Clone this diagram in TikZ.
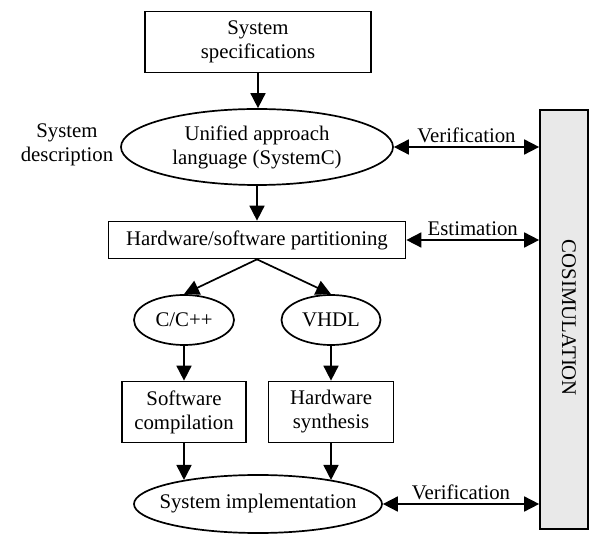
\documentclass[tikz,border=0pt]{standalone}
\usepackage{fontspec}
\setmainfont{Liberation Serif}
\usetikzlibrary{shapes.geometric,arrows.meta}

\begin{document}
\begin{tikzpicture}[x=1pt, y=-1pt, line width=1.7pt, >={Triangle[length=15pt,width=15pt]},
  every node/.style={font=\fontsize{20.8}{24}\selectfont, align=center},
  box/.style={rectangle, draw, inner sep=2pt},
  oval/.style={ellipse, draw, inner sep=0pt}]
\useasboundingbox (0,0) rectangle (589,534);

% specification and description
\node[box, minimum width=226pt, minimum height=61pt] (spec) at (258,42) {System\\specifications};
\node[oval, minimum width=272pt, minimum height=76pt] (ual) at (257,147) {Unified approach\\language (SystemC)};
\node (desc) at (67,145) {System\\description};
\draw[->] (spec.south) -- (spec.south |- ual.north);

% partitioning
\node[box, minimum width=297pt, minimum height=37pt] (hsp) at (257,240) {Hardware/software partitioning};
\draw[->] (ual.south) -- (ual.south |- hsp.north);

% software side
\node[oval, minimum width=100pt, minimum height=50pt] (cc) at (184,320) {C/C++};
\node[box, minimum width=124pt, minimum height=61pt] (swc) at (184,412) {Software\\compilation};
\draw[->] (hsp.south) -- (cc.north);
\draw[->] (cc.south) -- (cc.south |- swc.north);

% hardware side
\node[oval, minimum width=99pt, minimum height=50pt] (vhdl) at (331,320) {VHDL};
\node[box, minimum width=125pt, minimum height=61pt] (hws) at (331,412) {Hardware\\synthesis};
\draw[->] (hsp.south) -- (vhdl.north);
\draw[->] (vhdl.south) -- (vhdl.south |- hws.north);

% implementation
\node[oval, inner xsep=-26pt, minimum width=248pt, minimum height=58pt] (impl) at (258,504) {System implementation};
\draw[->] (swc.south) -- (swc.south |- impl.162);
\draw[->] (hws.south) -- (hws.south |- impl.18);

% cosimulation
\node[rectangle, draw, fill=gray!17, minimum width=48pt, minimum height=419pt] (cosim) at (564,319.5) {};
\node[rotate=-90] (cosimtxt) at (569,318) {COSIMULATION};
\draw[<->] (ual.east) -- (ual.east -| cosim.west) node[midway, above] (ver1) {Verification};
\draw[<->] (hsp.east) -- (hsp.east -| cosim.west) node[midway, above] (est) {Estimation};
\draw[<->] (impl.east) -- (impl.east -| cosim.west) node[midway, above] (ver2) {Verification};
\end{tikzpicture}
\end{document}
